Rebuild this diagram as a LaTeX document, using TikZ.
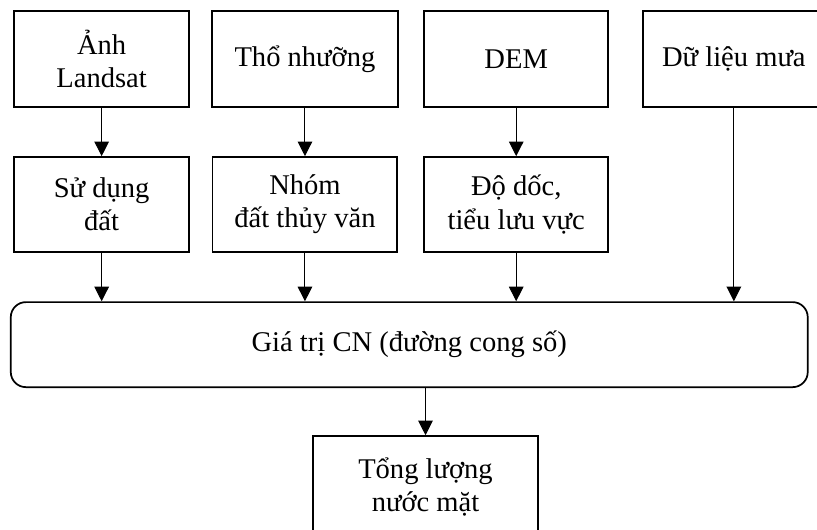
\documentclass[tikz,border=0pt]{standalone}
\usepackage{fontspec}
\setmainfont{Liberation Serif}
\usetikzlibrary{arrows.meta}

\begin{document}
\begin{tikzpicture}[
        every node/.style={font=\fontsize{21.5}{25}\selectfont},
        box/.style={draw, line width=1.3pt, align=center, inner sep=0pt},
        arr/.style={-{Triangle[width=11pt,length=11pt]}, line width=0.75pt}]
      \useasboundingbox (0,0) rectangle (21.62,14.0);
      % input data
      \node[box, minimum width=4.63cm, minimum height=2.54cm]
            (land) at (2.69,12.43) {Ảnh\\Landsat};
      \node[box, minimum width=4.92cm, minimum height=2.54cm]
            (soil) at (8.07,12.43) {Thổ nhưỡng};
      \node[box, minimum width=4.87cm, minimum height=2.54cm]
            (dem) at (13.66,12.43) {DEM};
      \node[box, minimum width=4.82cm, minimum height=2.54cm]
            (rain) at (19.42,12.43) {Dữ liệu mưa};
      % derived layers
      \node[box, minimum width=4.63cm, minimum height=2.51cm]
            (landuse) at (2.69,8.59) {Sử dụng\\đất};
      \node[box, minimum width=4.89cm, minimum height=2.51cm]
            (hsg) at (8.07,8.59) {Nhóm\\đất thủy văn};
      \node[box, minimum width=4.87cm, minimum height=2.51cm]
            (slope) at (13.66,8.59) {Độ dốc,\\tiểu lưu vực};
      \node[box, rounded corners=0.4cm, minimum width=21.09cm,
            minimum height=2.25cm]
            (cn) at (10.83,4.88) {Giá trị CN (đường cong số)};
      \node[box, minimum width=5.95cm, minimum height=2.70cm]
            (runoff) at (11.26,1.11) {Tổng lượng\\nước mặt};
      \draw[arr] (land) -- (landuse);
      \draw[arr] (soil) -- (hsg);
      \draw[arr] (dem) -- (slope);
      \draw[arr] (landuse) -- (landuse |- cn.north);
      \draw[arr] (hsg) -- (hsg |- cn.north);
      \draw[arr] (slope) -- (slope |- cn.north);
      \draw[arr] (rain) -- (rain |- cn.north);
      \draw[arr] (cn.south -| runoff) -- (runoff);
    \end{tikzpicture}
\end{document}
